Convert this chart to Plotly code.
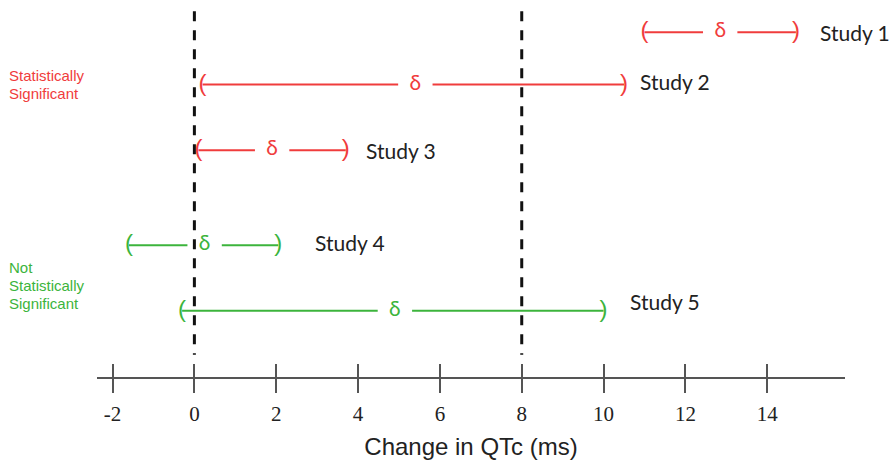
import plotly.graph_objects as go

# QTc change: confidence intervals and point estimates per study
studies = ["Study 1", "Study 2", "Study 3", "Study 4", "Study 5"]
lower = [11.0, 0.2, 0.1, -1.6, -0.3]
upper = [14.7, 10.5, 3.7, 2.05, 10.0]
estimate = [12.85, 5.4, 1.9, 0.25, 4.9]
significant = [True, True, True, False, False]

tick_values = [-2, 0, 2, 4, 6, 8, 10, 12, 14]
tick_labels = ["-2", "0", "2", "4", "6", "8", "10", "12", "14"]
reference_lines = [0, 8]

group_lines_sig = ["Statistically", "Significant"]
group_lines_ns = ["Not", "Statistically", "Significant"]

# vertical layout of the rows (top to bottom)
row_y = [0.0, 0.8, 1.8, 3.25, 4.25]
label_pad_px = [22, 14, 18, 35, 24]
label_shift_px = [0, 3, 0, 3, 9]

RED = "#f03c3c"
GREEN = "#3cb43c"
GAP = 0.42  # half gap around the delta symbol, in ms

fig = go.Figure()

for i, name in enumerate(studies):
    col = RED if significant[i] else GREEN
    y = row_y[i]
    # interval line split around the delta symbol
    fig.add_trace(go.Scatter(
        x=[lower[i], estimate[i] - GAP, None, estimate[i] + GAP, upper[i]],
        y=[y, y, None, y, y],
        mode="lines", line=dict(color=col, width=2),
        hoverinfo="skip", showlegend=False))
    # parenthesis ends
    fig.add_trace(go.Scatter(
        x=[lower[i], upper[i]], y=[y, y], mode="text",
        text=["(", ")"], textposition="middle center",
        textfont=dict(family="DejaVu Sans ExtraLight, Liberation Sans", size=24, color=col),
        cliponaxis=False, hoverinfo="skip", showlegend=False))
    # delta at the point estimate
    fig.add_trace(go.Scatter(
        x=[estimate[i]], y=[y], mode="text", text=["δ"],
        textposition="middle center",
        textfont=dict(family="Lato, Liberation Sans", size=21, color=col),
        cliponaxis=False, hoverinfo="skip", showlegend=False))
    fig.add_annotation(
        x=upper[i], y=y, xref="x", yref="y", text=name, showarrow=False,
        xanchor="left", yanchor="middle", xshift=label_pad_px[i], yshift=label_shift_px[i],
        font=dict(family="Lato, Open Sans, sans-serif", size=21, color="#222222"))

# dashed reference lines
for xv in reference_lines:
    fig.add_shape(type="line", xref="x", yref="y", x0=xv, x1=xv, y0=-0.32, y1=4.92,
                  line=dict(color="#111111", width=3, dash="10px,9px"), layer="below")

# group labels on the left, one annotation per text line
LINE_STEP = 18
for lines, anchor_y, col in [(group_lines_sig, 0.8, RED), (group_lines_ns, 3.86, GREEN)]:
    n = len(lines)
    for k, txt in enumerate(lines):
        fig.add_annotation(xref="paper", yref="y", x=-0.12, y=anchor_y,
                           xanchor="left", yanchor="middle", text=txt, showarrow=False,
                           yshift=((n - 1) / 2 - k) * LINE_STEP,
                           font=dict(family="Liberation Sans, Arial", size=15, color=col))

# secondary axis for the upper half of the tick marks
fig.add_trace(go.Scatter(x=[tick_values[0]], y=[row_y[0]], xaxis="x2", mode="markers",
                         marker=dict(opacity=0), hoverinfo="skip", showlegend=False))

x_range = [-2.38, 15.9]
fig.update_layout(
    width=893, height=466,
    margin=dict(l=97, r=48, t=0, b=89),
    paper_bgcolor="white", plot_bgcolor="white",
    xaxis=dict(range=x_range, tickvals=tick_values, ticktext=tick_labels,
               showgrid=False, zeroline=False, showline=True, linecolor="#555555",
               linewidth=2, ticks="outside", ticklen=14, tickwidth=2, tickcolor="#555555",
               ticklabelstandoff=3,
               tickfont=dict(family="Liberation Serif, Times New Roman", size=21, color="#222222"),
               title=dict(text="Change in QTc (ms)", standoff=13,
                          font=dict(family="Liberation Sans, Arial", size=24, color="#222222"))),
    xaxis2=dict(range=x_range, overlaying="x", side="bottom", tickvals=tick_values,
                showticklabels=False, showgrid=False, zeroline=False, showline=False,
                ticks="inside", ticklen=13, tickwidth=2, tickcolor="#555555"),
    yaxis=dict(range=[5.26, -0.49], visible=False, showgrid=False, zeroline=False),
)

fig.write_html("out.html")
